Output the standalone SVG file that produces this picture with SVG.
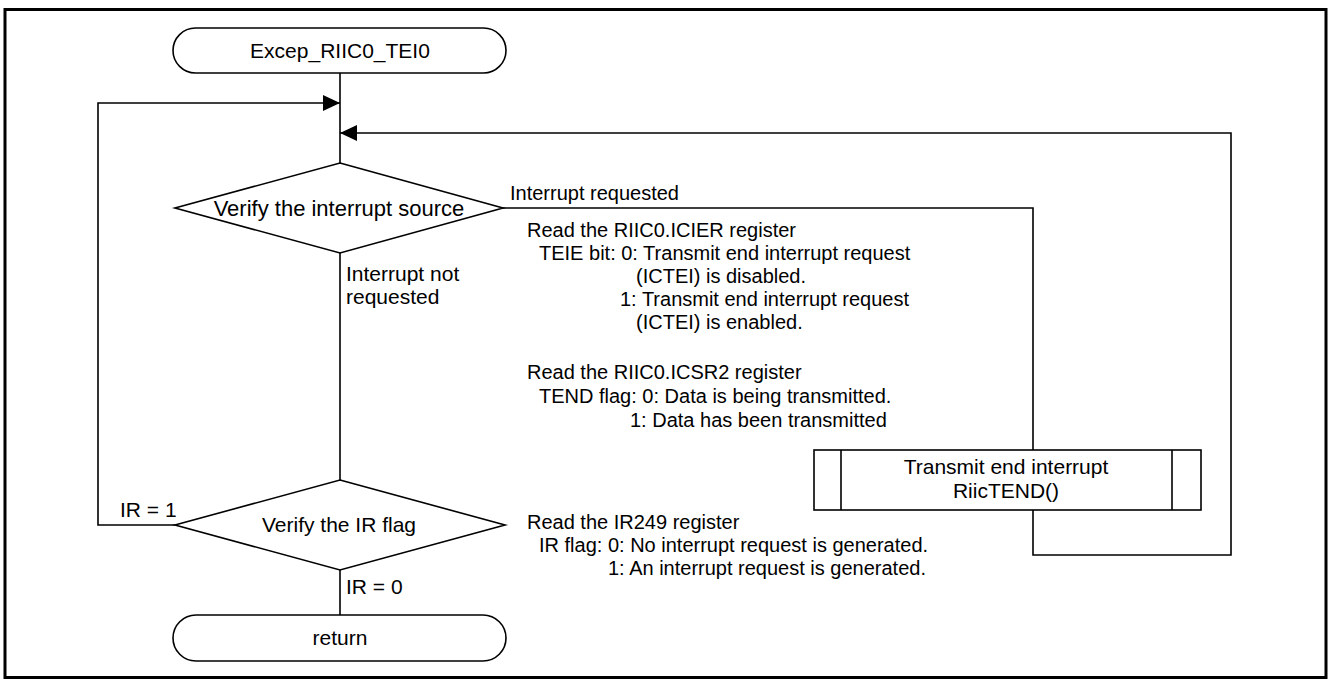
<svg xmlns="http://www.w3.org/2000/svg" width="1328" height="679" viewBox="0 0 1328 679">
  <style>
    .shape { fill: #ffffff; stroke: #000000; stroke-width: 1.6; }
    .line { fill: none; stroke: #000000; stroke-width: 1.6; }
    text { font-family: "Liberation Sans", Arial, sans-serif; font-size: 20px; fill: #000000; }
    .n { font-size: 21px; }
    .c { text-anchor: middle; }
  </style>
  <defs>
    <marker id="arrow" viewBox="0 0 17 16" refX="17" refY="8" markerWidth="17" markerHeight="16" markerUnits="userSpaceOnUse" orient="auto">
      <path d="M0,0 L17,8 L0,16 Z" fill="#000000"/>
    </marker>
  </defs>

  <!-- frame -->
  <rect x="5" y="9.5" width="1321" height="668" fill="#ffffff" stroke="#000000" stroke-width="3"/>

  <!-- connectors -->
  <g id="connectors">
    <path class="line" d="M340,73 V163"/>
    <path class="line" d="M175,525 H98 V103 H340" marker-end="url(#arrow)"/>
    <path class="line" d="M503,208 H1033 V450"/>
    <path class="line" d="M1033,510 V555 H1231 V133 H340" marker-end="url(#arrow)"/>
    <path class="line" d="M340,253 V480"/>
    <path class="line" d="M340,570 V615"/>
    <text x="510" y="200">Interrupt requested</text>
    <text class="n" x="346" y="281">Interrupt not</text>
    <text class="n" x="346" y="304">requested</text>
    <text class="n" x="120" y="517">IR = 1</text>
    <text class="n" x="346" y="594">IR = 0</text>
  </g>

  <!-- start terminator -->
  <g id="start">
    <rect class="shape" x="173" y="28" width="333" height="45" rx="22.5" ry="22.5"/>
    <text class="c n" x="340" y="58">Excep_RIIC0_TEI0</text>
  </g>

  <!-- decision: interrupt source -->
  <g id="check-source">
    <polygon class="shape" points="340,163 503,208 340,253 175,208"/>
    <text class="c" x="339" y="216" style="font-size:22px">Verify the interrupt source</text>
  </g>

  <!-- notes for the source check -->
  <g id="note-icier">
    <text x="527" y="237">Read the RIIC0.ICIER register</text>
    <text x="539" y="260">TEIE bit: 0: Transmit end interrupt request</text>
    <text x="636" y="283">(ICTEI) is disabled.</text>
    <text x="620" y="306">1: Transmit end interrupt request</text>
    <text x="636" y="329">(ICTEI) is enabled.</text>
  </g>
  <g id="note-icsr2">
    <text x="527" y="379">Read the RIIC0.ICSR2 register</text>
    <text x="539" y="403">TEND flag: 0: Data is being transmitted.</text>
    <text x="630" y="427">1: Data has been transmitted</text>
  </g>

  <!-- predefined process: transmit end -->
  <g id="riic-tend">
    <rect class="shape" x="814" y="450" width="387" height="60"/>
    <path class="line" d="M841,450 V510 M1172,450 V510"/>
    <text class="c n" x="1006" y="474">Transmit end interrupt</text>
    <text class="c n" x="1006" y="498">RiicTEND()</text>
  </g>

  <!-- decision: IR flag -->
  <g id="check-ir">
    <polygon class="shape" points="340,480 505,525 340,570 175,525"/>
    <text class="c n" x="339" y="532">Verify the IR flag</text>
  </g>
  <g id="note-ir249">
    <text x="527" y="529">Read the IR249 register</text>
    <text x="539" y="552">IR flag: 0: No interrupt request is generated.</text>
    <text x="608" y="575">1: An interrupt request is generated.</text>
  </g>

  <!-- end terminator -->
  <g id="return">
    <rect class="shape" x="173" y="615" width="333" height="46" rx="23" ry="23"/>
    <text class="c n" x="340" y="645">return</text>
  </g>
</svg>
